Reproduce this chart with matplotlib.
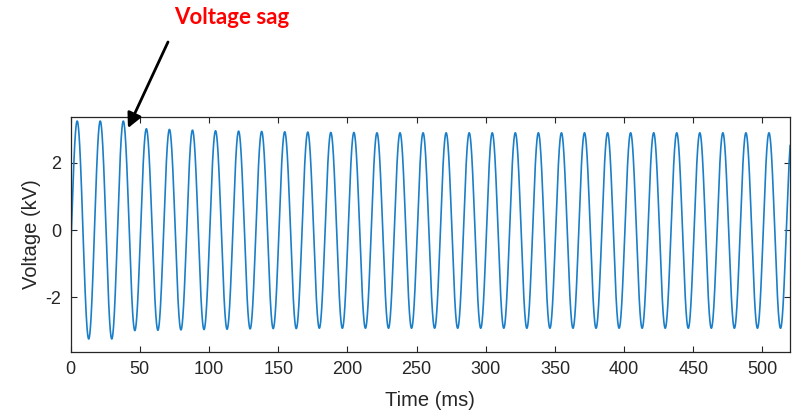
import numpy as np
import matplotlib
matplotlib.use('Agg')
from matplotlib import pyplot as plt

# mains frequency and timing of the waveform
freq_hz = 60
first_peak_ms = 4.7
t_end_ms = 520

# peak voltages of each cycle (kV), starting at the first peak
peak_kv = [3.25, 3.25, 3.25, 3.02, 3.00, 2.98, 2.96, 2.95, 2.94, 2.93,
           2.92, 2.91, 2.91, 2.90, 2.90, 2.90, 2.90, 2.90, 2.90, 2.90,
           2.90, 2.90, 2.90, 2.90, 2.90, 2.90, 2.90, 2.90, 2.90, 2.90,
           2.90, 2.90]
# trough voltages (kV), the first one is half a cycle before the first peak
trough_kv = [-3.25, -3.25, -3.25, -3.00, -2.99, -2.98, -2.97, -2.96, -2.95, -2.94,
             -2.94, -2.93, -2.93, -2.93, -2.93, -2.93, -2.93, -2.93, -2.93, -2.93,
             -2.93, -2.93, -2.93, -2.93, -2.93, -2.93, -2.93, -2.93, -2.93, -2.93,
             -2.93, -2.93]

xticks = [0, 50, 100, 150, 200, 250, 300, 350, 400, 450, 500]
yticks = [-2, 0, 2]

# interleave troughs and peaks, each half cycle is a cosine arc between them
half_period = 1000.0 / freq_hz / 2
ext_v = np.ravel(np.column_stack([trough_kv, peak_kv]))
ext_t = first_peak_ms - half_period + half_period * np.arange(len(ext_v))

t = np.linspace(0, t_end_ms, 8000)
idx = np.clip(np.searchsorted(ext_t, t) - 1, 0, len(ext_v) - 2)
va, vb = ext_v[idx], ext_v[idx + 1]
frac = (t - ext_t[idx]) / half_period
v = (va + vb) / 2 + (va - vb) / 2 * np.cos(np.pi * frac)

dark = '#262626'
plt.rcParams['font.family'] = ['Liberation Sans', 'DejaVu Sans']
plt.rcParams['axes.unicode_minus'] = False

fig = plt.figure(figsize=(7.95, 4.12), dpi=100)
ax = fig.add_axes([0.0889, 0.1464, 0.905, 0.5703])
ax.plot(t, v, color='#1A7FC8', lw=1.2)

ax.set_xlim(0, t_end_ms)
ax.set_ylim(-3.63, 3.38)
ax.set_xticks(xticks)
ax.set_yticks(yticks)
ax.tick_params(direction='in', length=4.5, width=0.8, top=True, right=True,
               colors=dark, labelsize=13, pad=7)
for s in ax.spines.values():
    s.set_color(dark)
    s.set_linewidth(0.9)
ax.set_xlabel('Time (ms)', fontsize=14.5, color=dark, labelpad=9)
ax.set_ylabel('Voltage (kV)', fontsize=14.5, color=dark, labelpad=3)

# callout
fig.text(232 / 795, 1 - 18 / 412, 'Voltage sag', color='#FF0000', fontsize=16,
         fontweight='bold', family=['Lato', 'DejaVu Sans'], ha='center', va='center')
ax.annotate('', xy=(41.4, 3.04), xycoords='data',
            xytext=(168 / 795, 1 - 42 / 412), textcoords='figure fraction',
            arrowprops=dict(arrowstyle='-|>', color='black', lw=2,
                            mutation_scale=22, shrinkA=0, shrinkB=0),
            annotation_clip=False)

plt.savefig('out.png', dpi=100)
